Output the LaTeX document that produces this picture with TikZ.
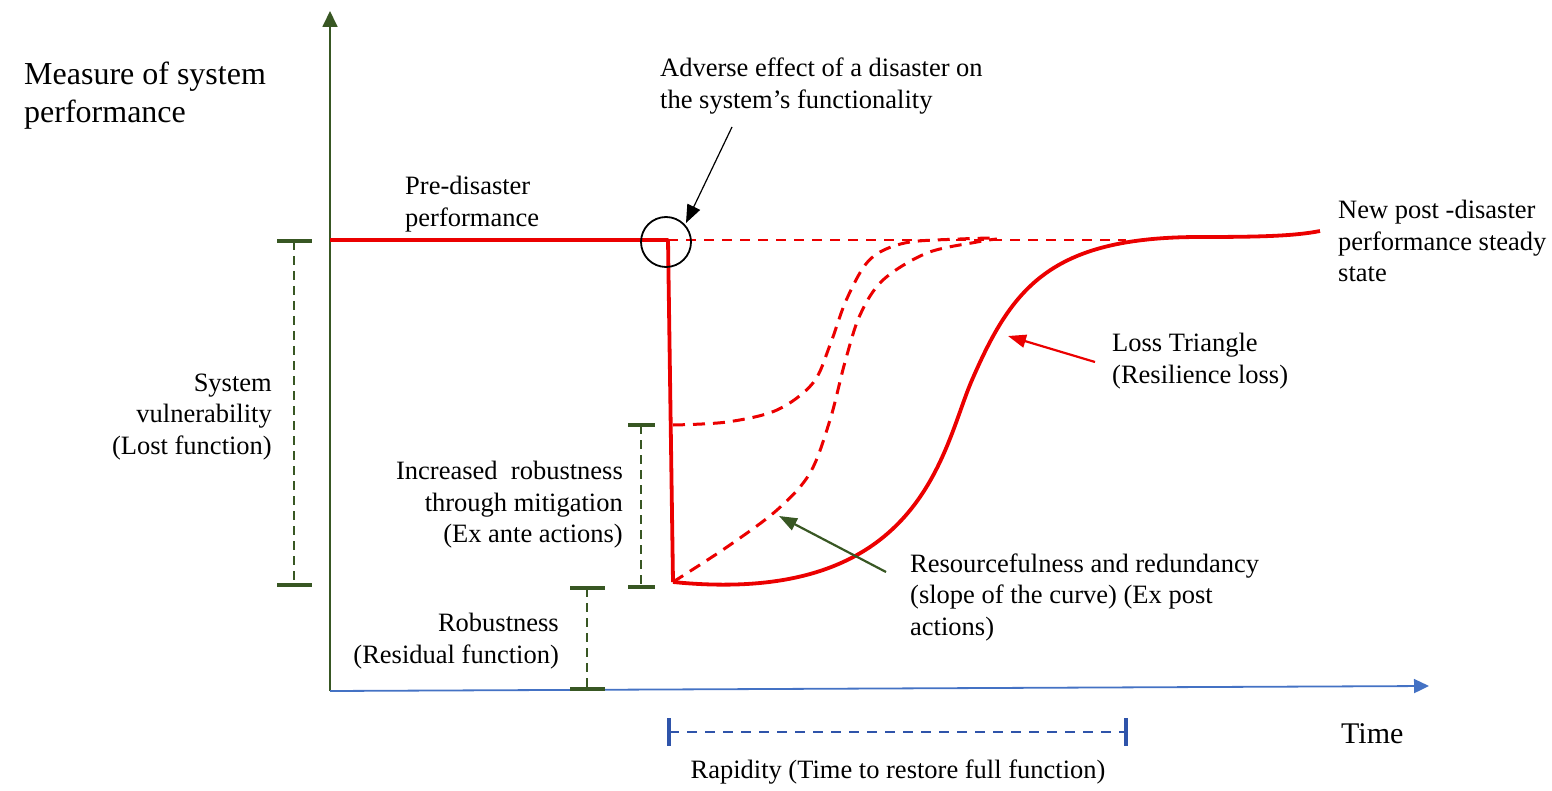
\documentclass[tikz,border=0pt]{standalone}
\usepackage{fontspec}
\setmainfont{Liberation Serif}
\usetikzlibrary{arrows.meta}
\definecolor{axgreen}{RGB}{56,87,35}
\definecolor{axblue}{RGB}{68,114,196}
\definecolor{rapblue}{RGB}{47,84,170}
\definecolor{curvered}{RGB}{235,0,0}
\tikzset{
  lbl/.style={inner sep=0pt, font=\fontsize{26.5}{31.5}\selectfont, align=left},
  lblr/.style={lbl, align=right},
  bigl/.style={inner sep=0pt, font=\fontsize{32}{38}\selectfont, align=left},
  perf/.style={curvered, line width=3.8pt, line join=round},
  perfdash/.style={curvered, line width=3pt, dash pattern=on 12pt off 8pt},
  barline/.style={axgreen, line width=2.5pt, dash pattern=on 9pt off 6pt},
  barcap/.style={axgreen, line width=3.5pt},
}
\begin{document}
\begin{tikzpicture}[x=1pt, y=-1pt]
\useasboundingbox (0,0) rectangle (1552,791);

% axes
\coordinate (origin) at (330,691);
\coordinate (ytop) at (330,11);
\coordinate (xend) at (1429,686);
\draw[axgreen, line width=1.8pt, -{Triangle[length=16pt, width=15pt]}] (origin) -- (ytop);
\draw[axblue, line width=1.8pt, -{Triangle[length=15pt, width=14pt]}] (origin) -- (xend);

% performance before and at the disaster
\coordinate (pre) at (330,240);
\coordinate (hit) at (668,240);
\coordinate (low) at (673,582);
\coordinate (mid) at (673,425);
\coordinate (full) at (1126,240);
\coordinate (turn) at (972,380);
\coordinate (settle) at (1200,237);
\coordinate (postend) at (1320,231);
\draw[perf] (pre) -- (hit) -- (low);
\draw[curvered, line width=2.5pt, dash pattern=on 10pt off 8pt] (hit) -- (full);
\node[draw=black, circle, line width=1.8pt, minimum size=50pt, inner sep=0pt] (event) at (666,242) {};

% recovery curves
\draw[perf] (low) .. controls (923,607) and (942,449) .. (turn)
  .. controls (1012,288) and (1050,237) .. (settle)
  .. controls (1260,237) and (1295,236) .. (postend);
\draw[perfdash] plot[smooth, tension=0.55] coordinates {(673,425) (727,422) (777,410) (813,383) (830,345) (845,303) (863,268) (880,252) (910,242) (960,239) (990,238)};
\draw[perfdash] plot[smooth, tension=0.55] coordinates {(673,582) (727,547) (777,510) (810,473) (830,420) (845,362) (860,315) (883,280) (927,253) (977,242) (997,239)};

% measurement bars
\draw[barline] (294,241) -- (294,585);
\draw[barcap] (277,241) -- (312,241) (277,585) -- (312,585);
\draw[barline] (641,425) -- (641,587);
\draw[barcap] (628,425) -- (655,425) (628,587) -- (655,587);
\draw[barline] (587,588) -- (587,689);
\draw[barcap] (570,588) -- (605,588) (570,689) -- (605,689);
\draw[rapblue, line width=2.2pt, dash pattern=on 10pt off 8pt] (669,732) -- (1126,732);
\draw[rapblue, line width=3.2pt] (669,718) -- (669,746) (1126,718) -- (1126,746);

% labels
\node[bigl, anchor=west] (ylabel) at (24,96) {Measure of system\\performance};
\node[lbl, anchor=west] (adverse) at (660,86) {Adverse effect of a disaster on\\the system’s functionality};
\node[lbl, anchor=west] (prelbl) at (405,204) {Pre-disaster\\performance};
\node[lbl, anchor=west] (postlbl) at (1338,241) {New post -disaster\\performance steady\\state};
\node[lblr, anchor=east] (vuln) at (272,417) {System\\vulnerability\\(Lost function)};
\node[lblr, anchor=east] (mitig) at (623,505) {Increased\ \ robustness\\through mitigation\\(Ex ante actions)};
\node[lblr, anchor=east] (robust) at (559,641) {Robustness\\(Residual function)};
\node[lbl, anchor=west] (loss) at (1112,361) {Loss Triangle\\(Resilience loss)};
\node[lbl, anchor=west] (resource) at (910,597) {Resourcefulness and redundancy\\(slope of the curve) (Ex post\\actions)};
\node[inner sep=0pt, font=\fontsize{30}{36}\selectfont, anchor=west] (time) at (1341,734) {Time};
\node[lbl, anchor=center] (rapid) at (898,772) {Rapidity (Time to restore full function)};

% pointers
\coordinate (advtail) at (732,127);
\coordinate (advtip) at (686,223);
\draw[black, line width=1.2pt, -{Triangle[length=18pt, width=14pt]}] (advtail) -- (advtip);
\coordinate (losstail) at (1095,362);
\coordinate (losstip) at (1008,336);
\draw[curvered, line width=2.2pt, -{Triangle[length=18pt, width=13pt]}] (losstail) -- (losstip);
\coordinate (restail) at (886,572);
\coordinate (restip) at (779,516);
\draw[axgreen, line width=2.2pt, -{Triangle[length=18pt, width=13pt]}] (restail) -- (restip);
\end{tikzpicture}
\end{document}
